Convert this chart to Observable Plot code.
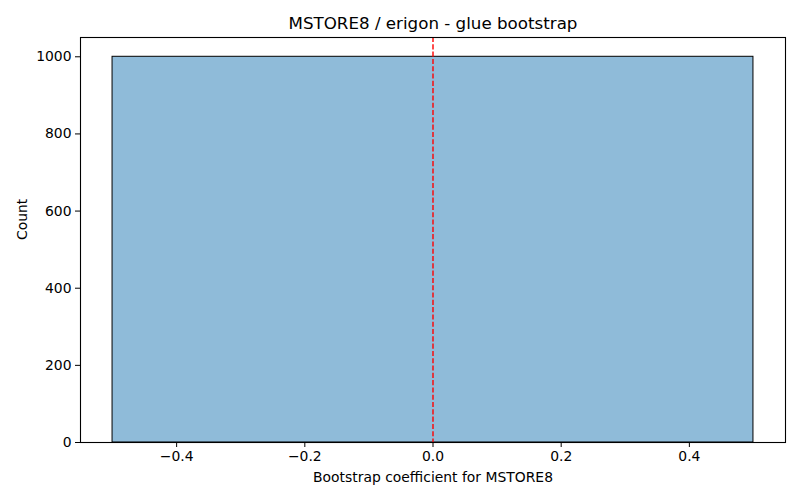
<!DOCTYPE html>
<html>
<head>
<meta charset="utf-8">
<script src="https://cdn.jsdelivr.net/npm/d3@7"></script>
<script src="https://cdn.jsdelivr.net/npm/@observablehq/plot@0.6"></script>
<style>
  body { margin: 0; background: #fff; }
  svg { font-family: "DejaVu Sans", sans-serif; }
</style>
</head>
<body>
<div id="chart"></div>
<script>
const binStarts = [-0.5];
const binEnds = [0.5];
const counts = [1000];
const xTicks = [-0.4, -0.2, 0.0, 0.2, 0.4];
const yTicks = [0, 200, 400, 600, 800, 1000];
const refLine = [0];
const title = "MSTORE8 / erigon - glue bootstrap";
const xLabel = "Bootstrap coefficient for MSTORE8";
const yLabel = "Count";

const bins = binStarts.map((s, i) => ({x1: s, x2: binEnds[i], y: counts[i]}));

const chart = Plot.plot({
  width: 800,
  height: 500,
  marginLeft: 80,
  marginRight: 15,
  marginTop: 37,
  marginBottom: 58,
  style: {fontSize: "13.9px", fontFamily: "DejaVu Sans, sans-serif", color: "black", background: "white"},
  x: {domain: [-0.55, 0.55]},
  y: {domain: [0, 1050]},
  marks: [
    Plot.rectY(bins, {x1: "x1", x2: "x2", y: "y", fill: "#8fbbd9", stroke: "black", strokeWidth: 1}),
    Plot.ruleX(refLine, {stroke: "red", strokeWidth: 1.4, strokeDasharray: "5.1,2.2", strokeOpacity: 1}),
    Plot.frame({stroke: "black", strokeWidth: 1.1}),
    Plot.axisX({ticks: xTicks, tickSize: 5, tickPadding: 4, tickFormat: d3.format(".1f"), label: null}),
    Plot.axisY({ticks: yTicks, tickSize: 5, tickPadding: 4, tickFormat: d3.format("d"), label: null}),
    Plot.text([xLabel], {frameAnchor: "bottom", lineAnchor: "middle", dy: 35, text: d => d, fontSize: 13.9, fill: "black"}),
    Plot.text([yLabel], {frameAnchor: "left", lineAnchor: "middle", dx: -58, rotate: -90, text: d => d, fontSize: 13.9, fill: "black"}),
    Plot.text([title], {frameAnchor: "top", lineAnchor: "middle", dy: -14, text: d => d, fontSize: 16.7, fill: "black"})
  ]
});
document.getElementById("chart").appendChild(chart);
</script>
</body>
</html>
